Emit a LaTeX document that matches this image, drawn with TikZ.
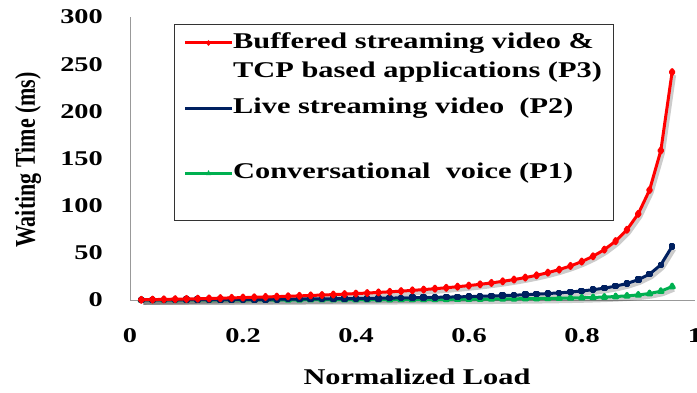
\documentclass[tikz,border=0pt]{standalone}
\usepackage{fontspec}
\setmainfont{Liberation Serif}[FakeStretch=1.35]
\newfontfamily\ytitlefont{Liberation Serif}
\usetikzlibrary{plotmarks}

\definecolor{pthree}{RGB}{255,0,0}
\definecolor{ptwo}{RGB}{0,32,96}
\definecolor{pone}{RGB}{0,176,80}

\tikzset{
    axisline/.style={draw=gray!80, line width=0.8pt},
    ticklab/.style={font=\bfseries\fontsize{21}{24}\selectfont, inner sep=0pt},
    legtext/.style={font=\bfseries\fontsize{22.5}{29}\selectfont, anchor=west, inner sep=0pt, align=left},
    curve/.style={line width=3pt, line join=round, mark size=2.5pt},
    shadowline/.style={line width=4pt, draw=black, opacity=0.2, line join=round},
}

\begin{document}
\begin{tikzpicture}[x=1pt,y=1pt]
    \useasboundingbox (0,0) rectangle (697,392);

    \begin{scope}[shift={(130,92)}, x=565pt, y=0.9433pt]
        % axes
        \draw[axisline] (0,300) coordinate (ytop) -- (0,0) coordinate (orig) -- (1,0) coordinate (xend);
        \foreach \v in {0,50,...,300}
            \node[ticklab, anchor=east, xshift=-27pt] (yt\v) at (0,\v) {\v};
        \foreach \v [count=\i] in {0,0.2,0.4,0.6,0.8,1}
            \node[ticklab, yshift=-36pt] (xt\i) at (\v,0) {\v};
        \node[ticklab, font=\bfseries\fontsize{22.5}{26}\selectfont, yshift=-77pt] (xtitle) at (0.508,0) {Normalized Load};

        % shadows
        \foreach \a in {10.2,2.4,0.6}
            \draw[shadowline, shift={(2pt,-3pt)}] plot[domain=0.02:0.96, samples=48] (\x,{\a*\x/(1-\x)});

        % curves
        \draw[curve, pone, mark=triangle*] plot[domain=0.02:0.96, samples=48] (\x,{0.6*\x/(1-\x)});
        \draw[curve, ptwo, mark=square*, mark size=1.8pt] plot[domain=0.02:0.96, samples=48] (\x,{2.4*\x/(1-\x)});
        \draw[curve, pthree, mark=diamond*] plot[domain=0.02:0.96, samples=48] (\x,{10.2*\x/(1-\x)});
    \end{scope}

    \node[rotate=90, inner sep=0pt, font=\ytitlefont\bfseries\fontsize{22}{26}\selectfont] (ytitle) at (28,232) {\scalebox{1}[1.3]{Waiting Time (ms)}};

    % legend
    \draw[draw=black!80, line width=0.8pt, fill=white] (174,172) rectangle (613,368);
    \node[legtext] (lgthree) at (233,334.5) {Buffered streaming video \&\\TCP based applications (P3)};
    \node[legtext] (lgtwo) at (233,284) {Live streaming video\ \ (P2)};
    \node[legtext] (lgone) at (233,219) {Conversational\ \ voice (P1)};
    \draw[curve, pthree] (185,349) -- (232,349);
    \draw[curve, ptwo] (185,284) -- (232,284);
    \draw[curve, pone] (185,219) -- (232,219);
    \fill[pthree] (208.5,352) -- (211,349) -- (208.5,346) -- (206,349) -- cycle;
    \fill[ptwo] (207,282.5) rectangle (210,285.5);
    \fill[pone] (206,217) -- (211,217) -- (208.5,222) -- cycle;
\end{tikzpicture}
\end{document}
